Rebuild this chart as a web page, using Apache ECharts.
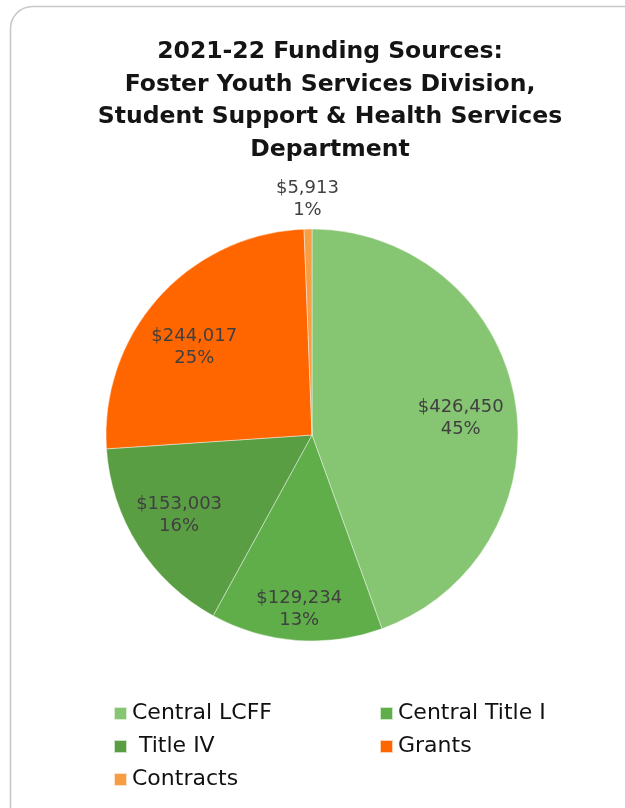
<!DOCTYPE html>
<html>
<head>
<meta charset="utf-8">
<script src="https://cdn.jsdelivr.net/npm/echarts@6/dist/echarts.min.js"></script>
<style>
  html, body { margin: 0; padding: 0; background: #ffffff; }
  #chart { width: 625px; height: 808px; }
</style>
</head>
<body>
<div id="chart"></div>
<script>
// Funding sources, 2021-22
const titleText = '2021-22 Funding Sources:\nFoster Youth Services Division,\nStudent Support & Health Services\nDepartment';
const categories = ['Central LCFF', 'Central Title I', ' Title IV', 'Grants', 'Contracts'];
const amounts = [426450, 129234, 153003, 244017, 5913];
const sliceColors = ['#86C571', '#5FAE4A', '#5A9E44', '#FF6600', '#F99D45'];

const FONT = '"DejaVu Sans", sans-serif';
const CX = 312, CY = 435, R = 206;

// nudges for the in-slice labels, per slice
const labelNudges = [[-2, 10], [-1, 22], [-4, -2], [-4, 15], null];

function money(v) {
  return '$' + v.toLocaleString('en-US');
}
function labelText(p) {
  return money(p.value) + '\n' + p.percent + '%';
}

const labelStyle = {
  color: '#404040',
  fontFamily: FONT,
  fontSize: 18,
  lineHeight: 22,
  formatter: labelText
};

// visible slices; only the tiny "Contracts" slice labels itself outside the pie
const mainData = categories.map((name, i) => {
  const item = { name: name, value: amounts[i], itemStyle: { color: sliceColors[i] } };
  if (i === 4) {
    item.label = Object.assign({
      show: true,
      position: 'outside',
      distanceToLabelLine: 0
    }, labelStyle);
    item.labelLine = { show: false, length: 30, length2: 0 };
  }
  return item;
});

// transparent ring used only to place the in-slice labels further out from the centre
const labelRingData = categories.map((name, i) => {
  const item = { name: name, value: amounts[i] };
  if (labelNudges[i]) item.label = { offset: labelNudges[i] };
  else item.label = { show: false };
  return item;
});

const chart = echarts.init(document.getElementById('chart'), null, { renderer: 'canvas' });

chart.setOption({
  animation: false,
  backgroundColor: '#ffffff',
  graphic: [{
    type: 'rect',
    shape: { x: 10.5, y: 6.5, width: 640, height: 840, r: 22 },
    style: { fill: 'none', stroke: '#c8c8c8', lineWidth: 1.6 },
    silent: true,
    z: -1
  }],
  title: {
    text: titleText,
    left: 330,
    textAlign: 'center',
    top: 36,
    padding: 0,
    textStyle: {
      fontFamily: FONT,
      fontWeight: 'bold',
      fontSize: 23.5,
      lineHeight: 32.5,
      color: '#141414'
    }
  },
  legend: {
    data: categories,
    left: 113,
    top: 697,
    width: 540,
    padding: 0,
    itemGap: 0,
    itemWidth: 13,
    itemHeight: 13,
    icon: 'rect',
    selectedMode: false,
    textStyle: {
      fontFamily: FONT,
      fontSize: 22,
      color: '#111111',
      width: 247,
      lineHeight: 33
    }
  },
  series: [
    {
      type: 'pie',
      center: [CX, CY],
      radius: [0, R],
      startAngle: 90,
      clockwise: true,
      avoidLabelOverlap: false,
      percentPrecision: 0,
      silent: true,
      itemStyle: { borderColor: 'rgba(255,255,255,0.7)', borderWidth: 0.6 },
      label: { show: false },
      labelLine: { show: false },
      labelLayout: function (p) {
        return p.dataIndex === 4 ? { align: 'center' } : {};
      },
      emphasis: { disabled: true },
      data: mainData
    },
    {
      type: 'pie',
      center: [CX, CY],
      radius: [0, 300],
      startAngle: 90,
      clockwise: true,
      avoidLabelOverlap: false,
      percentPrecision: 0,
      silent: true,
      z: 3,
      itemStyle: { color: 'rgba(0,0,0,0)', borderWidth: 0 },
      label: Object.assign({ show: true, position: 'inside' }, labelStyle),
      labelLine: { show: false },
      emphasis: { disabled: true },
      data: labelRingData
    }
  ]
});
</script>
</body>
</html>
